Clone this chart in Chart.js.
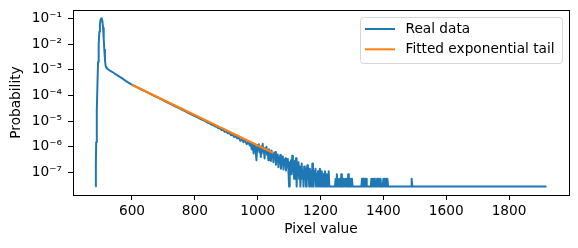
<!DOCTYPE html>
<html><head><meta charset="utf-8">
<script src="https://cdn.jsdelivr.net/npm/chart.js@4/dist/chart.umd.min.js"></script>
<style>html,body{margin:0;padding:0;background:#fff;}</style>
</head><body>
<canvas id="c" width="578" height="248"></canvas>
<script>
// ---- data ----
const peakX = [484,485,486,488,490,492,494,496,498,500,502,504,506,508,510,512,514,516,518,520,530,540,550,560,570,580,590,600];
const peakY = [2.8e-8,2e-7,1.5e-6,2.5e-5,2.5e-4,2e-3,1e-2,3e-2,6.2e-2,8.8e-2,1.0e-1,9.6e-2,7.6e-2,4.2e-2,1.6e-2,6e-3,2.4e-3,1.45e-3,1.22e-3,1.12e-3,9.3e-4,7.8e-4,6.5e-4,5.4e-4,4.5e-4,3.7e-4,3.1e-4,2.6e-4];

const tailX = [610,620,630,640,650,660,670,680,690,700,710,720,730,740,750,760,770,780,790,800,810,820,830,840,850];
const tailY = [2.25e-4,1.97e-4,1.7e-4,1.49e-4,1.28e-4,1.12e-4,9.6e-5,8.5e-5,7.3e-5,6.4e-5,5.5e-5,4.8e-5,4.2e-5,3.6e-5,3.2e-5,2.74e-5,2.4e-5,2.06e-5,1.8e-5,1.56e-5,1.37e-5,1.17e-5,1.04e-5,8.8e-6,7.8e-6];

const roughX = [855,860,865,870,875,880,885,890,895,900,905,910,915,920,925,930,935,940,945,950,955,960,965,970,975,978,981,984,987,990,993,996,999];
const roughY = [7.0e-6,6.9e-6,6.1e-6,6.0e-6,5.3e-6,5.2e-6,4.5e-6,4.6e-6,3.8e-6,4.0e-6,3.3e-6,3.5e-6,2.8e-6,3.0e-6,2.4e-6,2.6e-6,2.1e-6,2.3e-6,1.7e-6,2.0e-6,1.5e-6,1.8e-6,1.25e-6,1.55e-6,1.1e-6,1.4e-6,8e-7,1.3e-6,5.5e-7,1.2e-6,9e-7,3e-7,1.15e-6];

const noiseX = [
 1000,1002,1004,1006,1008,1010,1012,1014,1016,1018,
 1020,1022,1024,1026,1028,1030,1032,1034,1036,1038,
 1040,1042,1044,1046,1048,1050,1052,1054,1056,1058,
 1060,1062,1064,1066,1068,1070,1072,1074,1076,1078,
 1080,1082,1084,1086,1088,1090,1092,1094,1096,1098,
 1100,1102,1104,1106,1108,1110,1112,1114,1116,1118,
 1120,1122,1124,1126,1128,1130,1132,1134,1136,1138,
 1140,1142,1144,1146,1148,1150,1152,1154,1156,1158,
 1160,1162,1164,1166,1168,1170,1172,1174,1176,1178,
 1180,1182,1184,1186,1188,1190,1192,1194,1196,1198,
 1200,1202,1204,1206,1208,1210,1212,1214,1216,1218,
 1220,1222,1224,1226,1228];
const noiseY = [
 110e-8,72e-8,125e-8,60e-8,95e-8,40e-8,105e-8,70e-8,130e-8,55e-8,
 85e-8,35e-8,90e-8,62e-8,100e-8,48e-8,75e-8,30e-8,80e-8,52e-8,
 68e-8,28e-8,72e-8,45e-8,58e-8,25e-8,55e-8,38e-8,62e-8,20e-8,
 45e-8,30e-8,50e-8,16e-8,40e-8,26e-8,48e-8,14e-8,35e-8,24e-8,
 42e-8,13e-8,30e-8,20e-8,36e-8,12e-8,28e-8,17e-8,33e-8,11e-8,
 2.8e-8,25e-8,14e-8,30e-8,8.4e-8,45e-8,11e-8,22e-8,5.6e-8,28e-8,
 14e-8,36e-8,2.8e-8,20e-8,8.4e-8,25e-8,5.6e-8,17e-8,2.8e-8,14e-8,
 22e-8,5.6e-8,11e-8,2.8e-8,17e-8,8.4e-8,14e-8,2.8e-8,11e-8,19e-8,
 5.6e-8,8.4e-8,2.8e-8,14e-8,5.6e-8,11e-8,2.8e-8,22e-8,8.4e-8,2.8e-8,
 11e-8,5.6e-8,14e-8,2.8e-8,8.4e-8,5.6e-8,11e-8,2.8e-8,8.4e-8,14e-8,
 2.8e-8,5.6e-8,11e-8,2.8e-8,8.4e-8,5.6e-8,2.8e-8,11e-8,5.6e-8,2.8e-8,
 8.4e-8,2.8e-8,5.6e-8,11e-8,2.8e-8];

const sparseX = [
 1246,1248,1250,1252,1254,1256,1258,1260,1262,1264,
 1266,1268,1270,1272,1274,1276,1280,1282,1284,1286,
 1288,1290,1292,1294,1296,1298,1300,1302,1330,1332,
 1334,1336,1338,1340,1342,1345,1347,1360,1362,1364,
 1366,1368,1371,1373,1378,1380,1382,1386,1388,1391,
 1393,1398,1400,1402,1404,1406,1409,1411,1413,1415,
 1488,1490,1492,1919];
const sparseY = [
 2.8e-8,5.6e-8,2.8e-8,8.4e-8,2.8e-8,5.6e-8,5.6e-8,2.8e-8,5.6e-8,2.8e-8,
 8.4e-8,2.8e-8,5.6e-8,2.8e-8,5.6e-8,2.8e-8,5.6e-8,2.8e-8,5.6e-8,2.8e-8,
 8.4e-8,2.8e-8,5.6e-8,2.8e-8,5.6e-8,2.8e-8,5.6e-8,2.8e-8,2.8e-8,5.6e-8,
 2.8e-8,5.6e-8,2.8e-8,5.6e-8,2.8e-8,5.6e-8,2.8e-8,2.8e-8,5.6e-8,2.8e-8,
 5.6e-8,2.8e-8,5.6e-8,2.8e-8,2.8e-8,5.6e-8,2.8e-8,5.6e-8,2.8e-8,5.6e-8,
 2.8e-8,2.8e-8,5.6e-8,2.8e-8,5.6e-8,2.8e-8,5.6e-8,2.8e-8,5.6e-8,2.8e-8,
 2.8e-8,5.6e-8,2.8e-8,2.8e-8];

const fitX = [600, 1050];
const fitY = [2.6e-4, 5.7e-7];

const seriesLabels = ['Real data', 'Fitted exponential tail'];
const seriesColors = ['#1f77b4', '#ff7f0e'];

const xTicks = [600, 800, 1000, 1200, 1400, 1600, 1800];
const xTickLabels = ['600', '800', '1000', '1200', '1400', '1600', '1800'];
const yTicks = [1e-7, 1e-6, 1e-5, 1e-4, 1e-3, 1e-2, 1e-1];
const yTickLabels = ['10⁻⁷', '10⁻⁶', '10⁻⁵', '10⁻⁴', '10⁻³', '10⁻²', '10⁻¹'];
const xTitle = 'Pixel value';
const yTitle = 'Probability';

// ---- chart ----
const FONT = 13.7;
Chart.defaults.font.family = "'DejaVu Sans', sans-serif";
Chart.defaults.font.size = FONT;
Chart.defaults.color = '#000';

const toPts = (xs, ys) => xs.map((x, i) => ({x: x, y: ys[i]}));
const realPts = [].concat(toPts(peakX, peakY), toPts(tailX, tailY), toPts(roughX, roughY),
                          toPts(noiseX, noiseY), toPts(sparseX, sparseY));
const fitPts = toPts(fitX, fitY);

const framePlugin = {
  id: 'frame',
  afterDatasetsDraw(chart) {
    const {ctx, chartArea: a} = chart;
    ctx.save();
    ctx.strokeStyle = '#000';
    ctx.lineWidth = 1;
    ctx.strokeRect(a.left + 0.5, a.top + 0.5, a.right - a.left, a.bottom - a.top);
    ctx.restore();
  }
};

const legendPlugin = {
  id: 'mplLegend',
  afterDraw(chart) {
    const {ctx, chartArea: a} = chart;
    const ds = chart.data.datasets;
    const bx = a.right - 208.5, by = a.top + 7.5, bw = 202, bh = 46;
    ctx.save();
    ctx.beginPath();
    ctx.roundRect(bx, by, bw, bh, 3);
    ctx.fillStyle = 'rgba(255,255,255,0.8)';
    ctx.fill();
    ctx.strokeStyle = 'rgba(204,204,204,0.8)';
    ctx.lineWidth = 1;
    ctx.stroke();
    ctx.font = FONT + "px 'DejaVu Sans', sans-serif";
    ctx.textBaseline = 'middle';
    ctx.textAlign = 'left';
    ds.forEach((d, i) => {
      const y = by + 11.5 + i * 20.3;
      ctx.beginPath();
      ctx.strokeStyle = d.borderColor;
      ctx.lineWidth = 2;
      ctx.moveTo(bx + 4.5, y);
      ctx.lineTo(bx + 34.5, y);
      ctx.stroke();
      ctx.fillStyle = '#000';
      ctx.fillText(d.label, bx + 45, y);
    });
    ctx.restore();
  }
};

new Chart(document.getElementById('c'), {
  type: 'line',
  data: {
    datasets: [
      {label: seriesLabels[0], data: realPts, borderColor: seriesColors[0], backgroundColor: seriesColors[0],
       borderWidth: 2, pointRadius: 0, tension: 0, fill: false, order: 1, borderJoinStyle: 'round'},
      {label: seriesLabels[1], data: fitPts, borderColor: seriesColors[1], backgroundColor: seriesColors[1],
       borderWidth: 2, pointRadius: 0, tension: 0, fill: false, order: 0}
    ]
  },
  options: {
    responsive: false,
    animation: false,
    devicePixelRatio: 1,
    layout: {padding: {top: 10, right: 9, left: 0, bottom: 0}},
    plugins: {legend: {display: false}, tooltip: {enabled: false}},
    scales: {
      x: {
        type: 'linear', min: 412.25, max: 1990.75,
        afterBuildTicks: s => { s.ticks = xTicks.map(v => ({value: v})); },
        afterFit: s => { s.height = 53; s.paddingLeft = 0; s.paddingRight = 0; },
        ticks: {autoSkip: false, maxRotation: 0, padding: 3, color: '#000',
                callback: v => { const i = xTicks.indexOf(v); return i >= 0 ? xTickLabels[i] : ''; }},
        grid: {display: true, drawOnChartArea: false, drawTicks: true, tickLength: 5,
               tickColor: '#000', tickWidth: 1, color: '#000'},
        border: {display: false},
        title: {display: true, text: xTitle, color: '#000', padding: {top: 0, bottom: 10.3}}
      },
      y: {
        type: 'logarithmic', min: 1.318e-8, max: 0.2128,
        afterBuildTicks: s => { s.ticks = yTicks.map(v => ({value: v})); },
        afterFit: s => { s.width = 73; s.paddingTop = 0; s.paddingBottom = 0; },
        ticks: {autoSkip: false, padding: 6, color: '#000',
                callback: v => { const i = yTicks.indexOf(v); return i >= 0 ? yTickLabels[i] : ''; }},
        grid: {display: true, drawOnChartArea: false, drawTicks: true, tickLength: 5,
               tickColor: '#000', tickWidth: 1, color: '#000'},
        border: {display: false},
        title: {display: true, text: yTitle, color: '#000', padding: {top: 8.5, bottom: 0}}
      }
    }
  },
  plugins: [framePlugin, legendPlugin]
});
</script>
</body></html>
